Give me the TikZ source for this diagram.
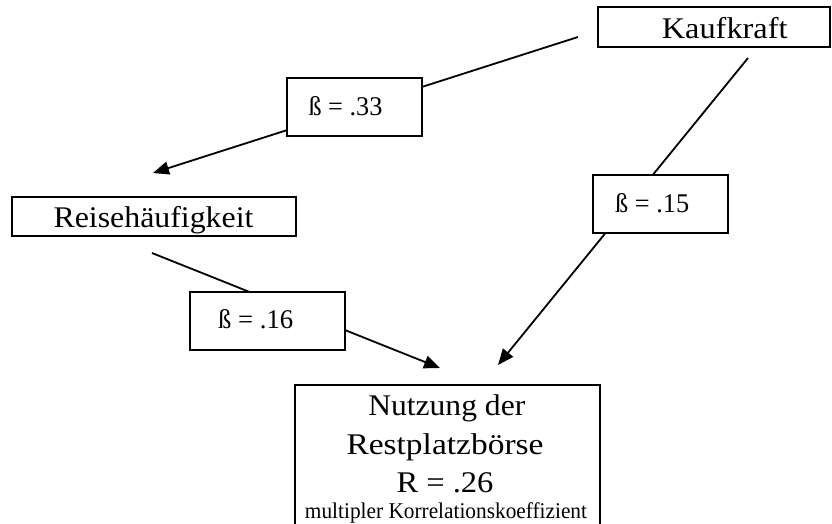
\documentclass[tikz,border=0pt]{standalone}
\usepackage{fontspec}
\setmainfont{Liberation Serif}
\usetikzlibrary{arrows.meta}
\newcommand\wfit[2]{\resizebox{#1}{\height}{#2}}
\begin{document}
\begin{tikzpicture}[x=1pt,y=-1pt,
  box/.style={draw, line width=2pt, fill=white, inner sep=0pt},
  conn/.style={line width=1.8pt},
  arr/.style={conn, -{Triangle[length=16pt,width=13pt]}},
  txt/.style={inner sep=0pt, anchor=base west},
  ctxt/.style={inner sep=0pt, anchor=base},
  big/.style={font=\fontsize{30}{36}\selectfont},
  small/.style={font=\fontsize{22.5}{27}\selectfont},
  beta/.style={font=\fontsize{27}{32}\selectfont}]
\useasboundingbox (0,0) rectangle (832,524);
% connector end points
\coordinate (s1) at (578,37);
\coordinate (e1) at (153,173);
\coordinate (s2) at (748,58);
\coordinate (e2) at (498,365);
\coordinate (s3) at (152,253);
\coordinate (e3) at (440,368);
\draw[arr] (s1) -- (e1);
\draw[arr] (s2) -- (e2);
\draw[arr] (s3) -- (e3);
% boxes
\node[box, minimum width=232pt, minimum height=40pt] (kauf) at (714,27) {};
\node[txt, big] (kauft) at (661.7,38.5) {\wfit{125.6pt}{Kaufkraft}};
\node[box, minimum width=284pt, minimum height=39pt] (reise) at (154,216.5) {};
\node[txt, big] (reiset) at (53.3,227) {\wfit{200pt}{Reisehäufigkeit}};
\node[box, minimum width=135pt, minimum height=58pt] (b33) at (354.5,107) {};
\node[txt, beta] (b33t) at (308.3,115) {\wfit{74pt}{ß = .33}};
\node[box, minimum width=135pt, minimum height=58pt] (b15) at (660.5,204) {};
\node[txt, beta] (b15t) at (615,212) {\wfit{74pt}{ß = .15}};
\node[box, minimum width=155pt, minimum height=58pt] (b16) at (267.5,321) {};
\node[txt, beta] (b16t) at (218,328.5) {\wfit{75pt}{ß = .16}};
\node[box, minimum width=305pt, minimum height=155pt] (nutz) at (447.5,462.5) {};
\node[ctxt, big] (n1) at (446.8,415.5) {\wfit{157pt}{Nutzung der}};
\node[ctxt, big] (n2) at (445,454.5) {\wfit{197pt}{Restplatzbörse}};
\node[ctxt, big] (n3) at (445,492) {\wfit{97pt}{R = .26}};
\node[ctxt, small] (n4) at (446,518.5) {\wfit{282pt}{multipler Korrelationskoeffizient}};
\end{tikzpicture}
\end{document}
